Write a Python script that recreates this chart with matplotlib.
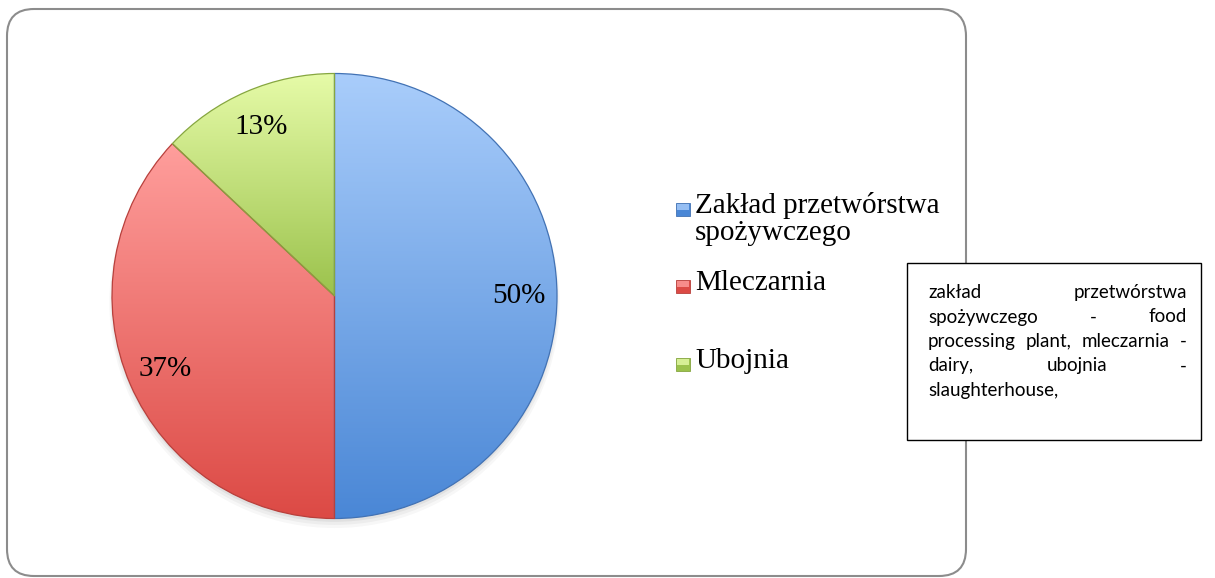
import numpy as np
import matplotlib
matplotlib.use('Agg')
import matplotlib.pyplot as plt
from matplotlib.colors import LinearSegmentedColormap
from matplotlib.patches import FancyBboxPatch, Rectangle, Circle

W, H = 1215, 578

# data
labels = ['Zakład przetwórstwa\nspożywczego', 'Mleczarnia', 'Ubojnia']
values = [50, 37, 13]
top_colors = ['#a9cdfb', '#ff9e9c', '#e6fba8']
bottom_colors = ['#4a87d6', '#dc4a45', '#9bc24c']
edge_colors = ['#4272b4', '#b8403c', '#86a640']
note_lines = ['zakład przetwórstwa',
              'spożywczego - food',
              'processing plant, mleczarnia -',
              'dairy, ubojnia -',
              'slaughterhouse,']

serif = 'Liberation Serif'
sans = 'Lato'


def px(x, y):
    # pixel (top-left origin) -> figure fraction
    return x / W, 1 - y / H


fig = plt.figure(figsize=(W / 100, H / 100), dpi=100)
fig.patch.set_facecolor('white')

# chart frame
frame = FancyBboxPatch((0.07, 0.02), 9.59, 5.67,
                       boxstyle='round,pad=0,rounding_size=0.27',
                       transform=fig.dpi_scale_trans, fc='none',
                       ec='#8c8c8c', lw=1.5, zorder=1)
fig.add_artist(frame)

# pie
cx, cy, r = 334.5, 296, 222.5
half = 240
ax = fig.add_axes([(cx - half) / W, (H - cy - half) / H, 2 * half / W, 2 * half / H])
wedges, texts, autotexts = ax.pie(values, startangle=90, counterclock=False, radius=1,
                                  autopct='%1.0f%%', pctdistance=0.83,
                                  textprops=dict(family=serif, size=21, color='black'),
                                  wedgeprops=dict(linewidth=0.9))
for t in autotexts:
    t.set_zorder(5)

for w, ct, cb, ce in zip(wedges, top_colors, bottom_colors, edge_colors):
    vs = w.get_path().vertices
    x0, x1 = vs[:, 0].min(), vs[:, 0].max()
    y0, y1 = vs[:, 1].min(), vs[:, 1].max()
    cmap = LinearSegmentedColormap.from_list('g', [cb, ct])
    grad = np.linspace(0, 1, 256)[:, None]
    im = ax.imshow(grad, cmap=cmap, extent=(x0, x1, y0, y1), origin='lower',
                   aspect='auto', zorder=1, interpolation='bilinear')
    im.set_clip_path(w)
    w.set_facecolor('none')
    w.set_edgecolor(ce)
    w.set_zorder(2)

# faint shadow under the pie
for k, a in enumerate([0.05, 0.04, 0.03]):
    ax.add_patch(Circle((0, -0.015 - 0.008 * k), 1.0 + 0.006 * k, color='black',
                        alpha=a, zorder=0, lw=0))

lim = half / r
ax.set_xlim(-lim, lim)
ax.set_ylim(-lim, lim)
ax.set_aspect('equal')
ax.axis('off')

# legend
baselines = [213, 290, 368]
for lab, b, ct, cb, ce in zip(labels, baselines, top_colors, bottom_colors, edge_colors):
    x0, y0 = px(676, b + 3)
    sq = Rectangle((x0, y0), 14 / W, 13 / H, transform=fig.transFigure,
                   fc=cb, ec=ce, lw=0.6)
    fig.add_artist(sq)
    sq2 = Rectangle((x0 + 1 / W, y0 + 6 / H), 12 / W, 6 / H, transform=fig.transFigure,
                    fc=ct, ec='none', lw=0, alpha=0.8)
    fig.add_artist(sq2)
    for i, line in enumerate(lab.split('\n')):
        fig.text(*px(695, b + 27 * i), line, family=serif, size=21,
                 ha='left', va='baseline')

# note box
note = Rectangle((9.07, 1.38), 2.94, 1.77, transform=fig.dpi_scale_trans,
                 fc='white', ec='black', lw=1, zorder=5)
fig.add_artist(note)

renderer = fig.canvas.get_renderer()
left, right = 928, 1187
for i, line in enumerate(note_lines):
    b = 298 + 24.5 * i
    words = line.split(' ')
    if i == len(note_lines) - 1:
        fig.text(*px(left, b), line, family=sans, size=13.5, ha='left',
                 va='baseline', zorder=6)
        continue
    arts = [fig.text(0, 0, wd, family=sans, size=13.5, ha='left', va='baseline', zorder=6)
            for wd in words]
    widths = [a.get_window_extent(renderer).width for a in arts]
    gap = (right - left - sum(widths)) / (len(words) - 1)
    x = left
    for a, wd in zip(arts, widths):
        a.set_position(px(x, b))
        x += wd + gap

fig.savefig('out.png', dpi=100)
